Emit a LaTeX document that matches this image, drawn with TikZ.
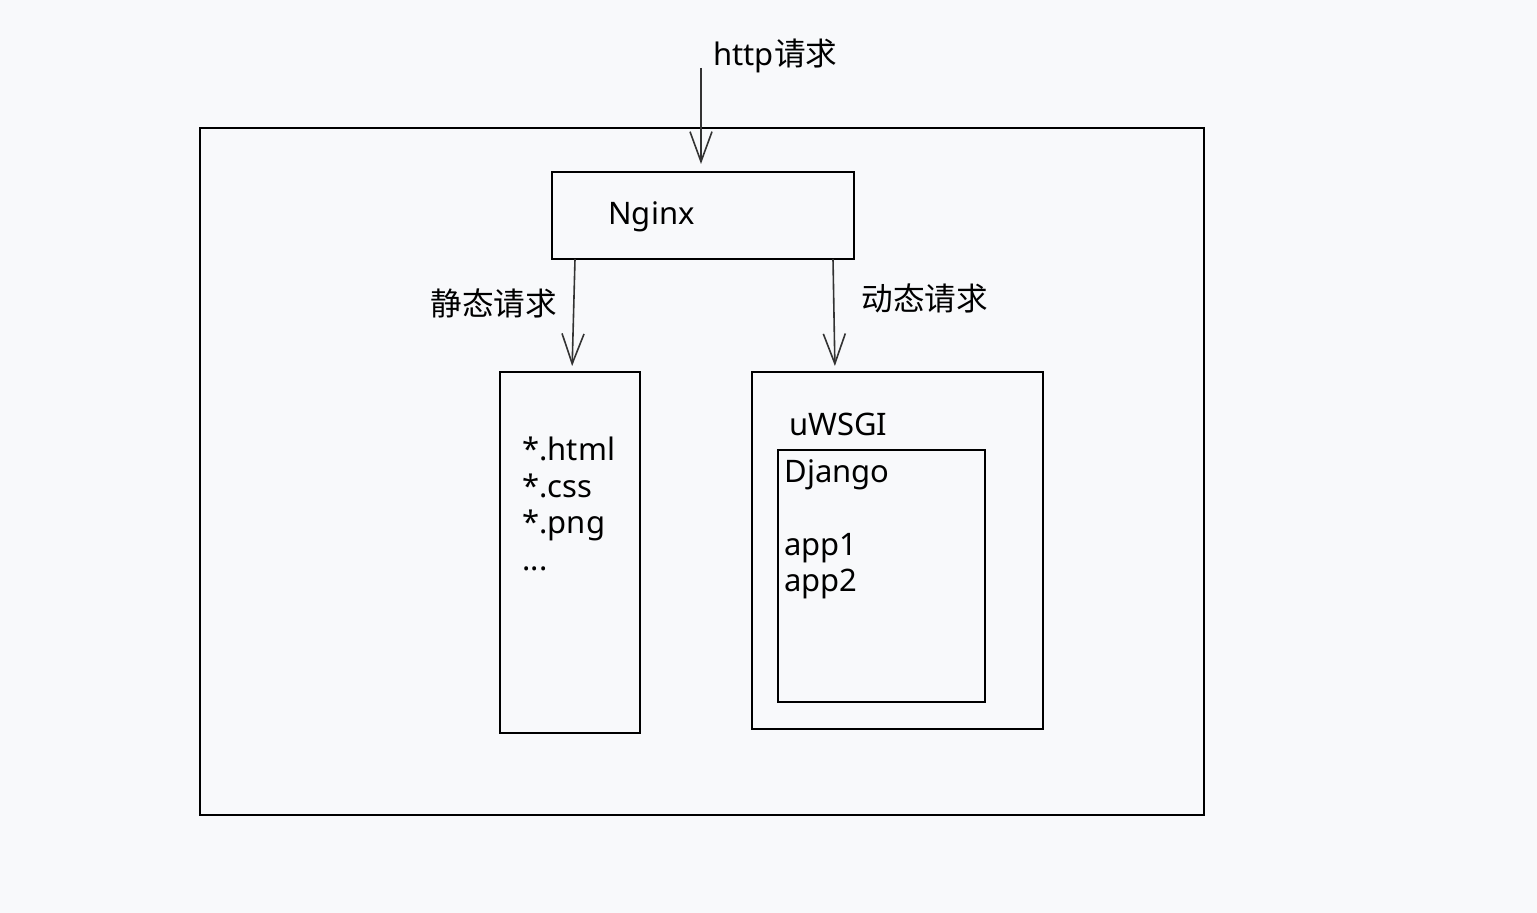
\documentclass[tikz,border=0pt]{standalone}
\usepackage{fontspec}
\setmainfont{Noto Sans}
\newfontfamily\cjk[Scale=1.02]{Noto Sans CJK SC}
\usepackage{xcolor}
\usetikzlibrary{arrows.meta}

\definecolor{paper}{HTML}{F8F9FB}
\definecolor{pen}{HTML}{333333}

\begin{document}
\begin{tikzpicture}[
  x=0.5pt, y=-0.5pt,
  font=\fontsize{15.5pt}{18.25pt}\selectfont,
  box/.style={draw, line width=1pt, inner sep=0pt, outer sep=0pt},
  txt/.style={inner sep=0pt, anchor=west, align=left},
  flow/.style={-{Straight Barb[length=15pt,width=11pt,line width=0.8pt]}, line width=0.8pt, pen, shorten >=3pt}
]
\useasboundingbox[fill=paper] (0,0) rectangle (1537,913);

\node[box, minimum width=502pt, minimum height=343.5pt] (server) at (702,471.5) {};
\node[box, minimum width=151pt, minimum height=43.5pt] (nginx) at (703,215.5) {};
\node[box, minimum width=70pt, minimum height=180.5pt] (static) at (570,552.5) {};
\node[box, minimum width=145.5pt, minimum height=178.5pt] (uwsgi) at (897.5,550.5) {};
\node[box, minimum width=103.5pt, minimum height=126pt] (django) at (881.5,576) {};

\coordinate (client) at (701,68);
\node[txt] (httplab) at (713,56) {http{\cjk 请求}};
\node[txt] at (608,217) {Nginx};
\node[txt] at (430,303) {\cjk 静态请求};
\node[txt] at (861,298) {\cjk 动态请求};
\node[txt, anchor=north west] (files) at (522,437) {*.html\\*.css\\*.png\\...};
\node[txt] at (789,424) {uWSGI};
\node[txt, anchor=north west] (apps) at (784,459) {Django\\\mbox{}\\app1\\app2};

\draw[flow, shorten >=4pt] (client) -- (nginx.north -| client);
\draw[flow] ([xshift=11.5pt]nginx.south west) -- ([xshift=36pt]static.north west);
\draw[flow] ([xshift=140.5pt]nginx.south west) -- ([xshift=41.5pt]uwsgi.north west);
\end{tikzpicture}
\end{document}
